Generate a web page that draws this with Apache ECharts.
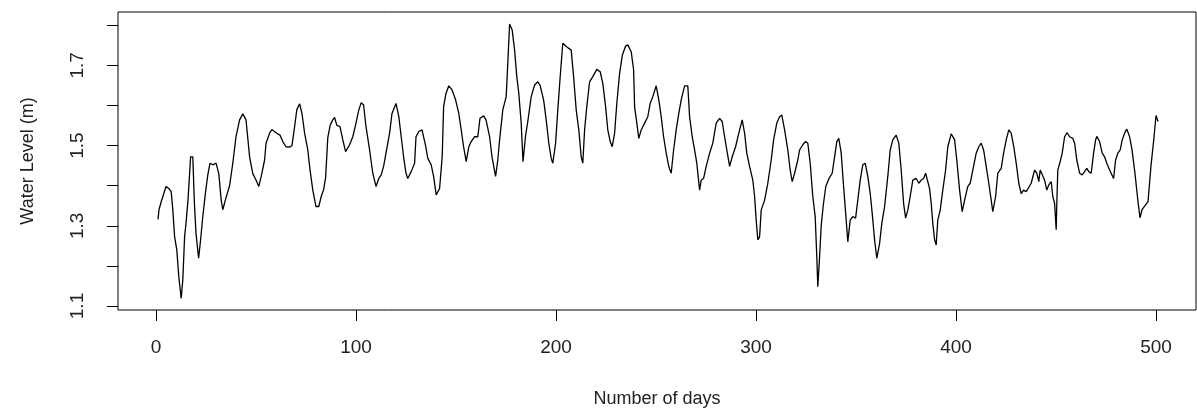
<!DOCTYPE html>
<html>
<head>
<meta charset="utf-8">
<script src="https://cdn.jsdelivr.net/npm/echarts@6/dist/echarts.min.js"></script>
<style>
html,body{margin:0;padding:0;background:#fff;}
#chart{width:1197px;height:412px;}
</style>
</head>
<body>
<div id="chart"></div>
<script>
// Data (day, water level in m)
const days = [1,1.5,2.6,3.4,5,6.4,7.6,8.4,9.3,10.4,11.4,12.6,13.4,14.3,15,16,16.8,17.3,18.4,19.2,20,21.3,22.3,23.4,24.8,25.9,27,28.4,30,31.4,32.6,33.4,35,36.8,38.4,40,41.8,43.4,45,46.8,48.4,50,51.4,52.6,54.3,55,56.8,57.9,60,62,63.4,65,66.8,68,69.3,70.4,71.8,73,74.3,75.9,77,78.4,80,81.4,82.6,83.8,84.8,85.9,87.1,88.4,89.3,90.4,92,93.4,94.8,95.4,96.8,98.4,100,101.4,102.6,103.8,105,106.8,108.4,110,111.4,112.6,113.8,115,116.8,118,120,121.4,122.6,123.8,125,125.9,127.6,129.3,130,131.4,133,134.8,135.9,137.6,138.8,140.1,141.8,143.1,143.8,145,146.4,148,149.8,151.4,152.6,153.8,155.1,156.4,157.6,159.3,160.9,162,163.8,165,166.8,168,169.8,170.9,171.8,173.4,175.1,175.9,176.8,178.1,179.3,180.4,181.4,182.6,183.5,184.8,185.9,187.6,189.3,190.9,192,193.8,195.1,196.4,197.6,198.4,199.8,200.9,202.1,203.4,205.1,207.6,208.8,210.1,211.4,212.6,213.4,214.3,215.4,216.8,218.4,220.4,222.1,223.4,224.8,225.9,227.1,228.1,229.3,230.4,231.8,233.2,234.8,235.9,237.6,238.8,239.3,240.4,241.4,242.6,244.3,245.9,247.1,248.4,250.1,251.4,252.6,253.8,255.1,256.4,257.6,258.8,260.1,261.4,262.6,264.3,265.9,266.8,268.1,269.3,270.4,271.8,272.6,273.8,275.1,276.8,278.4,280.1,281.8,283.1,284.3,285.4,286.8,288.1,289.8,291.4,293.1,294.3,295.4,296.8,298.4,299.3,300.1,300.9,301.8,302.6,304.3,305.9,307.6,308.8,310.4,311.8,312.9,314.3,315.9,317.1,318.1,319.3,320.9,321.8,322.6,323.4,324.8,325.9,327.1,328.4,329.6,330.4,330.9,331.8,332.6,333.6,334.9,336.5,338.1,339.3,340.4,341.4,342.6,343.8,345.1,345.9,347.1,348.4,349.8,350.9,352.1,353.4,354.6,355.9,357.1,358.1,359.3,360.4,361.8,362.9,364.3,365.9,367.1,368.4,370.1,371.4,372.6,373.8,374.8,375.9,377.1,378.4,380.1,381.4,382.6,383.8,384.8,385.9,386.8,387.6,388.4,389.3,390.1,390.9,392.1,393.4,394.8,395.9,397.6,399.3,400.4,401.8,403.1,404.3,405.9,407.1,408.4,410.1,411.4,412.6,413.8,415.1,416.4,417.6,418.4,419.8,420.9,422.6,423.8,425.1,426.4,427.6,428.9,430.1,431.4,432.6,433.8,435.1,436.4,437.6,439.3,440.4,441.4,442.1,443.1,444.3,445.4,446.4,447.6,448.4,449.3,450.1,450.4,450.9,452.1,453.1,454.3,455.6,456.8,458.4,459.3,460.4,461.8,463.1,464.3,465.4,466.4,467.6,468.8,469.8,470.4,471.8,473.1,474.3,475.4,476.8,477.6,478.8,479.8,480.9,482.1,483.1,484.3,485.4,486.8,488,489.5,491,492,493,494.5,496,497.5,499,500,501];
const levels = [1.316,1.34,1.36,1.364,1.398,1.393,1.385,1.34,1.273,1.24,1.173,1.119,1.165,1.273,1.306,1.364,1.43,1.472,1.472,1.356,1.281,1.219,1.265,1.323,1.385,1.427,1.456,1.452,1.456,1.43,1.364,1.34,1.37,1.40,1.456,1.522,1.564,1.579,1.564,1.472,1.43,1.414,1.398,1.423,1.464,1.505,1.531,1.54,1.532,1.526,1.51,1.497,1.496,1.5,1.547,1.589,1.604,1.58,1.531,1.489,1.44,1.389,1.348,1.348,1.373,1.39,1.42,1.52,1.551,1.564,1.57,1.551,1.547,1.514,1.485,1.481,1.502,1.522,1.556,1.589,1.607,1.601,1.547,1.489,1.431,1.398,1.418,1.427,1.448,1.481,1.531,1.58,1.605,1.572,1.522,1.472,1.431,1.418,1.435,1.456,1.522,1.535,1.539,1.50,1.468,1.452,1.423,1.377,1.393,1.472,1.597,1.63,1.649,1.639,1.614,1.58,1.539,1.497,1.46,1.497,1.51,1.522,1.522,1.568,1.574,1.564,1.522,1.472,1.423,1.464,1.514,1.589,1.622,1.705,1.803,1.788,1.738,1.672,1.63,1.556,1.46,1.525,1.56,1.622,1.651,1.659,1.651,1.614,1.564,1.506,1.468,1.456,1.506,1.589,1.672,1.755,1.747,1.738,1.672,1.589,1.539,1.472,1.456,1.539,1.597,1.659,1.672,1.69,1.684,1.655,1.597,1.539,1.51,1.497,1.531,1.605,1.68,1.726,1.748,1.751,1.734,1.689,1.597,1.556,1.518,1.539,1.556,1.572,1.605,1.622,1.649,1.614,1.572,1.522,1.481,1.448,1.431,1.489,1.539,1.58,1.614,1.649,1.649,1.572,1.522,1.489,1.456,1.389,1.414,1.418,1.448,1.481,1.506,1.556,1.568,1.56,1.522,1.489,1.448,1.472,1.497,1.531,1.564,1.531,1.481,1.448,1.414,1.373,1.314,1.265,1.273,1.339,1.364,1.406,1.464,1.514,1.556,1.572,1.576,1.539,1.489,1.439,1.41,1.431,1.464,1.489,1.485,1.502,1.51,1.506,1.456,1.373,1.323,1.223,1.148,1.223,1.30,1.35,1.398,1.418,1.431,1.472,1.51,1.518,1.481,1.398,1.314,1.26,1.314,1.323,1.319,1.364,1.414,1.452,1.456,1.423,1.381,1.331,1.265,1.219,1.256,1.306,1.348,1.423,1.489,1.514,1.526,1.506,1.439,1.356,1.319,1.339,1.373,1.414,1.418,1.406,1.414,1.418,1.431,1.41,1.392,1.356,1.306,1.265,1.252,1.314,1.339,1.389,1.439,1.497,1.529,1.514,1.464,1.389,1.335,1.364,1.398,1.406,1.439,1.481,1.497,1.506,1.489,1.448,1.406,1.364,1.335,1.373,1.431,1.443,1.481,1.514,1.539,1.531,1.497,1.456,1.406,1.38,1.389,1.385,1.396,1.406,1.439,1.431,1.41,1.439,1.443,1.414,1.389,1.402,1.41,1.373,1.356,1.29,1.356,1.439,1.46,1.481,1.522,1.532,1.522,1.518,1.506,1.464,1.431,1.427,1.435,1.443,1.435,1.431,1.481,1.514,1.523,1.51,1.481,1.472,1.456,1.439,1.439,1.418,1.464,1.481,1.489,1.514,1.531,1.541,1.522,1.49,1.43,1.36,1.32,1.34,1.35,1.36,1.45,1.52,1.575,1.56];
const xTicks = [0, 100, 200, 300, 400, 500];
const yTicks = [1.1, 1.2, 1.3, 1.4, 1.5, 1.6, 1.7, 1.8];
const yLabels = [1.1, 1.3, 1.5, 1.7];
const xTitle = 'Number of days';
const yTitle = 'Water Level (m)';

const seriesData = days.map((d, i) => [d, levels[i]]);
const font = '"Liberation Sans", Arial, sans-serif';

const chart = echarts.init(document.getElementById('chart'), null, {renderer: 'canvas'});
chart.setOption({
  animation: false,
  backgroundColor: '#fff',
  grid: {
    left: 118, top: 12, width: 1078, height: 298,
    show: true, borderColor: '#000', borderWidth: 1,
    backgroundColor: 'transparent',
    containLabel: false, outerBoundsMode: 'none'
  },
  xAxis: {
    type: 'value', min: -19, max: 520,
    axisLine: {show: false, onZero: false},
    splitLine: {show: false},
    axisTick: {show: true, inside: false, length: 11, lineStyle: {color: '#000', width: 1}, customValues: xTicks},
    axisLabel: {show: true, margin: 28, color: '#222', fontSize: 19, fontFamily: font, customValues: xTicks, formatter: v => String(v)},
    name: xTitle, nameLocation: 'middle', nameGap: 80,
    nameTextStyle: {color: '#222', fontSize: 18, fontFamily: font}
  },
  yAxis: {
    type: 'value', min: 1.09, max: 1.833,
    axisLine: {show: false, onZero: false},
    splitLine: {show: false},
    axisTick: {show: true, inside: false, length: 11, lineStyle: {color: '#000', width: 1}, customValues: yTicks},
    axisLabel: {show: true, rotate: 90, margin: 31, color: '#222', fontSize: 19, fontFamily: font, customValues: yLabels, formatter: v => v.toFixed(1)},
    name: yTitle, nameLocation: 'middle', nameGap: 81, nameRotate: 90,
    nameTextStyle: {color: '#222', fontSize: 18, fontFamily: font}
  },
  series: [{
    type: 'line', data: seriesData, showSymbol: false, symbol: 'none',
    lineStyle: {color: '#000', width: 1.3}, silent: true
  }]
});
</script>
</body>
</html>
